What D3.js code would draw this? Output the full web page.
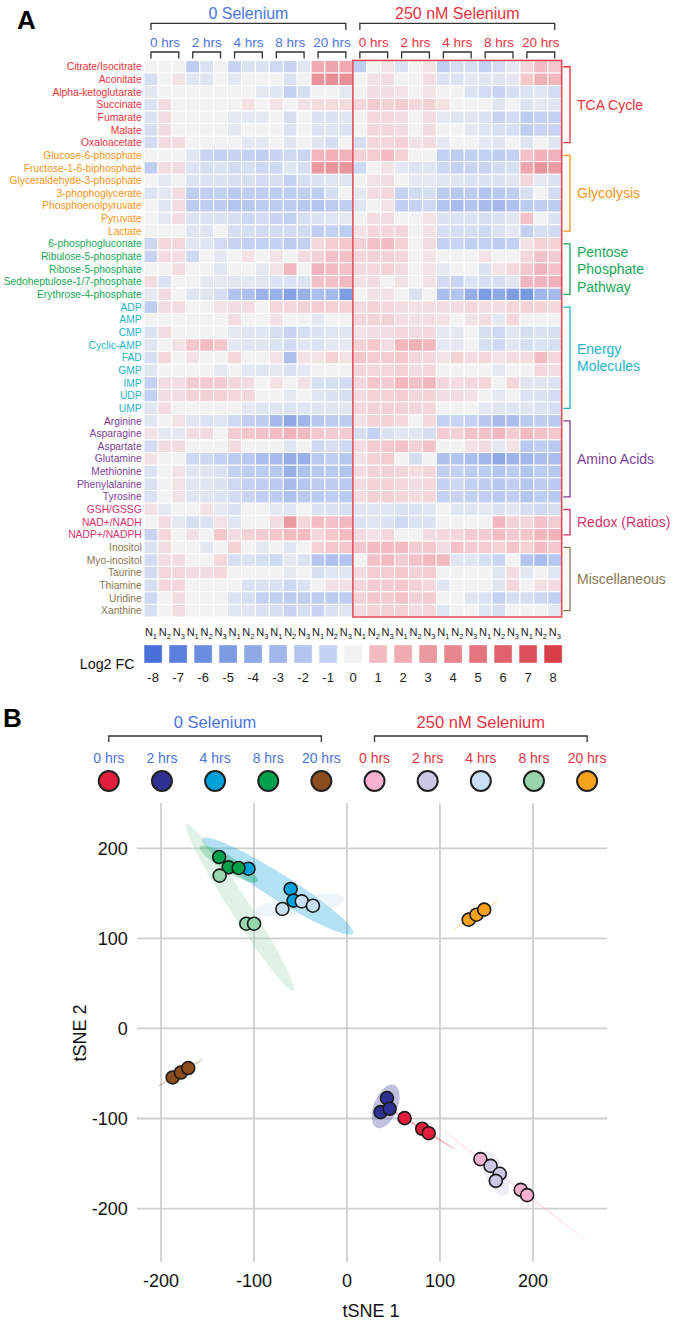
<!DOCTYPE html>
<html><head><meta charset="utf-8">
<script src="https://cdn.jsdelivr.net/npm/d3@7"></script>
<style>body{margin:0;background:#fff}svg{display:block;font-family:"Liberation Sans",Arial,Helvetica,sans-serif}</style>
</head><body><svg id="c" width="673" height="1322"></svg>
<script>
// ---------------- DATA ----------------
const conditions = ["0 Selenium", "250 nM Selenium"];
const conditionColors = ["#4d76dc", "#e8333f"];
const hours = ["0 hrs", "2 hrs", "4 hrs", "8 hrs", "20 hrs"];
const replicates = ["1", "2", "3"];

const pathwayLines = [["TCA Cycle"], ["Glycolysis"], ["Pentose", "Phosphate", "Pathway"], ["Energy", "Molecules"], ["Amino Acids"], ["Redox (Ratios)"], ["Miscellaneous"]];
const pathwayColors = ["#e8333d", "#f7941d", "#17a75b", "#1fb3c8", "#7f3f98", "#d6336f", "#8b7755"];

const tcaMetabolites = ["Citrate/Isocitrate", "Aconitate", "Alpha-ketoglutarate", "Succinate", "Fumarate", "Malate", "Oxaloacetate"];
const tcaValues = [
 [0,0,0,-1.3,-0.5,0,-0.9,-0.5,-0.5,-0.8,-0.9,-0.4,2.0,2.3,2.0,-1.3,0,0.3,-0.5,0,0.3,-1.2,-0.6,-0.6,-1.0,-0.7,-0.3,0.5,1.0,0.8],
 [-0.6,0,0.3,-0.4,-0.4,0,-0.3,0,0,0,-0.5,0,3.2,3.6,3.5,0,0.3,0.4,0,0,0.4,-0.5,-0.5,-0.3,-0.4,-0.4,-0.3,0.8,1.6,1.3],
 [-0.3,0,0,0,0,0,0,0,-0.3,-0.4,-1.0,-0.6,0,0,-0.3,0,0.4,0.4,0.3,0,0.3,0,0,-0.5,-0.7,-0.9,-0.6,-0.5,-0.4,-0.7],
 [-0.5,0.4,0,0,0,0,0,0.3,0,0.3,0,0.3,0.4,0.4,0.4,0.5,0.7,0.6,0.7,0.5,0.6,0.3,0,0,0,-0.4,0,-0.5,-0.3,-0.4],
 [-0.5,0.4,0,0,0,0,-0.3,-0.3,-0.3,0,-0.6,0,-0.5,-0.5,-0.4,0,0.5,0.5,0.4,0,0.4,-0.3,-0.4,-0.4,-0.5,-0.9,-0.7,-1.4,-1.1,-1.0],
 [-0.6,0.4,0,0,0,0,-0.3,0,0,0,-0.5,0,-0.5,-0.4,-0.5,0,0.5,0.5,0.4,0,0.4,0,0,-0.3,-0.4,-0.6,-0.6,-1.3,-0.9,-0.9],
 [-0.7,0.4,0.4,0,0,0,0,-0.3,-0.3,0,-0.4,0,-0.4,-0.6,0,-0.6,0.5,0.5,0.6,0.3,0.4,-0.3,0,0,-0.3,-0.4,0,-0.4,0,-0.4]
];
const glycolysisMetabolites = ["Glucose-6-phosphate", "Fructose-1-6-biphosphate", "Glyceraldehyde-3-phosphate", "3-phophoglycerate", "Phosphoenolpyruvate", "Pyruvate", "Lactate"];
const glycolysisValues = [
 [0,0,0,-0.4,-0.9,-1.0,-0.9,-1.0,-1.2,-0.9,-0.8,-0.9,1.3,1.6,1.5,0.6,0.7,1.1,0.6,0,0,-1.1,-1.3,-1.1,-1.1,-1.3,-1.0,0.9,1.6,1.5],
 [-1.3,0.4,0.4,-0.5,-0.6,-0.5,-0.7,-0.6,-0.8,-0.8,-0.4,-0.6,3.0,3.3,3.2,-0.8,0,0.3,-0.3,-0.5,-0.4,-0.8,-1.0,-0.9,-0.9,-0.7,-0.6,2.3,3.2,2.8],
 [0,-0.3,0,-0.5,-0.5,-0.5,-0.6,-0.6,-0.7,-0.6,-1.0,-0.6,-0.5,-0.4,-0.4,0,0.3,0.4,0,-0.3,-0.3,-0.4,-0.4,-0.5,-0.5,-0.5,-0.4,0.5,-0.3,-0.5],
 [-0.5,-0.3,0.4,-1.3,-1.2,-1.1,-1.6,-1.3,-1.2,-1.3,-1.4,-1.1,-1.3,-0.6,0,-0.3,0.4,0.5,-1.0,-0.7,-0.6,-1.5,-1.7,-1.4,-2.0,-1.6,-1.2,-0.6,0,-0.7],
 [0,-0.4,0.4,-1.5,-1.3,-1.3,-2.0,-1.7,-1.5,-1.5,-1.5,-1.7,-2.0,-1.5,-1.2,-0.4,0,0.3,-1.2,-1.0,-0.8,-2.0,-2.5,-2.0,-2.6,-2.8,-2.3,-1.5,-1.2,-1.5],
 [0,-0.3,0.4,-0.5,-0.5,-0.5,-0.6,-0.8,-0.7,-0.9,-1.1,-0.6,-0.5,-0.4,-0.3,0,0.4,0.4,0,0,0.3,-0.5,-0.5,-0.5,-0.6,-0.5,-0.4,0.9,0,-0.5],
 [0,0,0,-0.4,-0.4,0,-0.6,-0.6,-0.7,-0.7,-0.7,-0.7,-1.2,-1.0,-1.3,0.3,0.5,0.5,0.5,0,0.3,-0.6,-0.6,-0.6,-0.8,-0.5,-0.3,-1.1,-0.6,-0.7]
];
const pentoseMetabolites = ["6-phosphogluconate", "Ribulose-5-phosphate", "Ribose-5-phosphate", "Sedoheptulose-1/7-phosphate", "Erythrose-4-phosphate"];
const pentoseValues = [
 [-0.8,0.5,0.5,-0.4,-0.4,-0.7,-0.9,-1.0,-1.1,-1.0,-1.4,-1.0,0.5,0.7,0.8,0.6,0.9,1.0,0.6,0,0.4,-1.0,-0.9,-1.1,-1.0,-1.4,-1.0,0.3,0.6,0.6],
 [-0.9,0.4,0.4,-0.8,0,-0.3,0,0.3,0,0.3,0,0.4,0.6,0.9,0.9,0.5,0.6,0.6,0.5,0,0.3,0,0,0,0.3,0,0,0.5,0.9,0.7],
 [0,0,0.4,0,0,-0.4,0,0,-0.3,0.3,1.3,0,1.5,1.0,0.9,0.4,0.5,0.6,0.4,0,0.3,-0.3,0,0,-0.5,0.3,0.5,0.8,1.5,0.9],
 [0.4,-0.5,0,0,-0.3,-0.3,-0.4,-0.3,-0.4,-0.5,-0.5,-0.5,0.9,0.9,1.2,0.3,0.4,0,0.3,0,0.3,-0.7,-0.9,-0.5,-0.6,-0.6,-0.4,1.3,1.5,1.6],
 [-0.3,0.4,0,-0.4,-0.4,-0.6,-2.0,-2.3,-3.2,-3.5,-4.5,-3.4,-2.4,-2.7,-5.0,0,0.3,0.3,0,-0.5,0,-2.5,-2.0,-3.6,-5.0,-4.0,-4.8,-5.2,-3.0,-2.8]
];
const energyMetabolites = ["ADP", "AMP", "CMP", "Cyclic-AMP", "FAD", "GMP", "IMP", "UDP", "UMP"];
const energyValues = [
 [-1.3,0.4,0.4,0,0,0.3,0.4,0.4,0,0.5,0.5,0.6,0.7,0.6,0.6,0.4,0.6,0.5,0.4,0.3,0.4,0.4,0.4,0.5,0.4,0.4,0.5,0.6,0.6,0.5],
 [0,0,0,0,0,0,0.4,0,0,0.3,0,0,-0.3,0,0,0.5,0.6,0.6,0.4,0.3,0.4,0.3,0,0.3,0.4,-0.3,0.5,0,0,0],
 [-0.5,0.4,0,0,0,0,-0.3,-0.4,-0.4,-0.6,-0.9,-0.6,-0.5,-0.4,-0.4,0.3,0.4,0.4,0.5,0.4,0.5,-0.3,-0.3,0,-0.6,-0.8,-0.4,-0.6,-0.5,-0.6],
 [-0.4,0,0.3,0.8,1.0,0.8,-0.3,-0.4,-0.4,-0.5,-0.7,-0.4,-0.5,-0.3,-0.3,0.6,0.8,0.4,1.3,1.6,1.3,-0.3,-0.3,0,-0.6,-0.8,-0.4,-0.6,-0.5,-0.6],
 [-0.6,0.5,0,0.3,0,0,0.5,0,0,0.3,-2.3,0.3,0.3,0.6,0.3,0.8,0.7,0.7,0.8,0.5,0.5,0.3,0.6,0.4,0.5,0.3,0.4,0.4,1.0,0.5],
 [-0.4,0,0,0,0,-0.3,0,-0.3,-0.4,-0.3,-0.5,-0.3,0,0,0,0.5,0.5,0.5,0.6,0.4,0.5,0,0,0,0,-0.3,0,0,0.5,0.4],
 [-1.0,0.4,0.4,0.7,0.7,0.7,0.5,0.4,0,0.3,0,0.3,-0.6,-0.6,-0.7,0.5,0.8,0.7,1.3,0.9,1.3,0.5,0.4,0.5,0.5,0,0.5,-0.4,-0.4,-0.5],
 [-1.1,0.4,0.4,0.6,0.6,0.6,0.5,0.5,0,0,-0.3,0,-0.4,-0.5,-0.6,0.4,0.6,0.6,0.7,0.5,0.6,0.4,0.4,0.3,0,-0.3,0,-0.5,-0.5,-0.7],
 [-0.4,0.4,0,0,0,0,0,-0.3,-0.4,-0.4,-0.5,-0.4,-0.4,-0.4,-0.4,0.5,0.6,0.6,0.6,0.5,0.5,0,0,0,-0.3,-0.4,-0.4,-0.4,-0.5,-0.6]
];
const aminoMetabolites = ["Arginine", "Asparagine", "Aspartate", "Glutamine", "Methionine", "Phenylalanine", "Tyrosine"];
const aminoValues = [
 [-0.4,0,0.3,-0.4,-0.5,-0.4,-0.8,-1.2,-1.5,-2.8,-4.0,-3.0,-1.7,-1.5,-1.3,0.3,0.6,0.6,0.5,0,0.5,-1.0,-0.9,-1.0,-1.7,-2.6,-2.4,-1.6,-1.3,-1.6],
 [0.3,-0.3,-0.3,0.4,0.4,0,0.7,0.8,0.9,1.0,1.5,1.1,0.8,0.7,0.7,-0.6,-1.0,-0.5,-0.4,-0.4,-0.6,0.7,0.6,0.9,0.9,1.3,0.7,1.1,0.9,0.8],
 [-0.7,0.4,0.4,0,0,0,0.4,0,0,0,-0.4,0,-0.8,-0.6,-0.8,0.4,0.7,0.8,0.9,0.6,0.9,0,0,0.3,0.4,-0.3,0.3,-1.7,-1.3,-1.6],
 [0.3,0,0,-0.8,-0.8,-1.0,-1.5,-1.7,-2.5,-2.7,-3.7,-3.5,-1.6,-1.2,-1.8,0.3,0.6,0.7,0,-0.6,0,-2.3,-2.0,-2.4,-3.0,-4.0,-3.2,-3.0,-2.5,-2.5],
 [-0.5,0,0.3,-0.4,-0.4,-0.5,-1.0,-1.3,-1.5,-1.7,-3.5,-2.3,-1.7,-1.6,-2.0,0.4,0.6,0.6,0.5,0.4,0.5,-1.2,-1.0,-1.3,-1.5,-2.0,-1.3,-2.0,-1.5,-1.7],
 [-0.5,0,0.3,-0.4,-0.4,-0.5,-0.8,-1.0,-1.2,-1.6,-2.6,-1.8,-1.5,-1.4,-1.6,0.4,0.6,0.6,0.5,0.4,0.5,-1.0,-0.8,-1.1,-1.3,-1.8,-1.2,-1.8,-1.4,-1.6],
 [-0.5,0,0.3,-0.4,-0.4,-0.5,-0.7,-0.9,-1.2,-1.4,-2.3,-1.6,-1.5,-1.3,-1.5,0.4,0.6,0.6,0.5,0.4,0.5,-1.0,-0.9,-1.1,-1.2,-1.6,-1.2,-2.0,-1.4,-1.6]
];
const redoxMetabolites = ["GSH/GSSG", "NAD+/NADH", "NADP+/NADPH"];
const redoxValues = [
 [0.3,-0.3,0,0,0.3,-0.3,-0.5,0,0,-0.3,-0.4,0,-0.5,-0.5,-0.6,-0.4,-0.4,-0.4,-0.5,-0.5,-0.4,0,-0.4,-0.4,-0.3,-0.5,-0.4,-0.6,-0.8,-0.6],
 [0,0.4,-0.3,-0.6,-0.5,0.3,-0.4,0,0,0.4,3.0,0.5,1.0,0.9,1.2,-0.5,-0.4,-0.5,-0.8,-0.5,-0.5,0,0,0,0,1.3,0.6,0.5,0.9,0.7],
 [-0.9,0.5,0,0.3,0,0.8,0.4,0.6,0.7,0.8,1.1,1.1,0.5,0.8,1.1,0.4,0.3,0.5,0,0,0.4,0.5,0.5,0.7,0.7,1.0,0.7,0.8,1.4,1.5]
];
const miscMetabolites = ["Inositol", "Myo-inositol", "Taurine", "Thiamine", "Uridine", "Xanthine"];
const miscValues = [
 [-0.5,0.4,0,0,-0.3,0,0.6,0,-0.3,0,-0.4,0,0.6,0.8,0.8,0.8,1.0,1.1,1.0,0.7,0.8,0.4,0.9,0.7,0.7,0.6,0.8,0.6,1.0,0.8],
 [-0.7,0.4,0.4,0,0,0.5,-0.6,-0.5,-0.6,-0.8,-0.3,-0.5,-1.8,-2.3,-2.0,0,0.9,1.0,0.7,0.9,1.3,1.2,-0.4,-0.4,-0.6,-0.9,0,-2.0,-2.6,-1.8],
 [-0.7,0.5,0.5,0.4,0.4,0.5,0,0,0,0,-0.3,0,-0.6,-0.4,-0.4,0.4,0.7,0.7,0.8,0.6,0.7,0,0,0,0,-0.4,0.4,-0.3,0,-0.4],
 [-0.6,0.5,0.5,0,0,0,0,-0.5,-0.5,-0.5,-0.8,-0.5,0,0.3,0.3,0.5,0.7,0.7,0.8,0.6,0.5,-0.4,0,0,0,-0.4,0.5,0,0.3,0.4],
 [-0.8,0,0.4,0,0,0,-0.5,-0.6,-1.0,-1.1,-1.4,-1.2,-1.3,-1.5,-1.3,0.6,0.8,0.7,0.9,0.6,0.7,0,0,-0.4,-0.5,-1.0,-0.6,-0.6,-0.8,-1.1],
 [-0.6,0,0.4,0,0,0,-0.4,-0.4,-0.5,-0.6,-0.9,-0.6,-0.9,-0.5,-0.4,0.4,0.6,0.6,0.6,0.4,0.5,-0.4,0,0,-0.4,-0.6,0,0,0,-0.3]
];

const legendValues = [-8,-7,-6,-5,-4,-3,-2,-1,0,1,2,3,4,5,6,7,8];
const legendColors = ["#4870d8","#5a7fdc","#6b8ddf","#7d9be3","#8fa9e6","#a1b6ea","#b3c4ee","#c4d1f2","#f2f2f2","#f3bcc3","#efaab2","#eb98a0","#e8868f","#e4747e","#e0626d","#dc505c","#d93e4b"];

// tSNE (panel B)
const groupColors = ["#e31d3c","#2e3192","#00a0d8","#00a14b","#8b4d1e","#f5b3cf","#cdc9e5","#c8e1f4","#98d4ac","#f7a21b"];
const tsneX = [
 [62.0, 81.0, 87.9],
 [43.0, 36.1, 45.8],
 [-105.9, -60.6, -57.4],
 [-137.4, -127.2, -116.6],
 [-187.4, -178.5, -170.7],
 [143.5, 186.9, 193.8],
 [154.5, 164.3, 160.1],
 [-69.4, -48.6, -36.6],
 [-136.9, -108.2, -99.9],
 [130.9, 139.3, 147.6]
];
const tsneY = [
 [-99.6, -111.4, -116.3],
 [-77.4, -92.9, -89.2],
 [177.4, 154.9, 141.9],
 [190.4, 178.9, 178.2],
 [-54.4, -48.9, -44.0],
 [-145.1, -179.2, -185.1],
 [-152.6, -161.4, -169.2],
 [132.7, 141.1, 136.3],
 [169.7, 116.3, 116.3],
 [120.8, 126.3, 131.9]
];
const tsneTicks = [-200, -100, 0, 100, 200];

// ---------------- DRAW ----------------
const svg = d3.select("#c");
const FONT = '"Liberation Sans",Arial,sans-serif';

const groupsMet = [tcaMetabolites, glycolysisMetabolites, pentoseMetabolites, energyMetabolites, aminoMetabolites, redoxMetabolites, miscMetabolites];
const groupsVal = [tcaValues, glycolysisValues, pentoseValues, energyValues, aminoValues, redoxValues, miscValues];
const rows = [];
groupsMet.forEach((ms, gi) => ms.forEach((m, i) => rows.push({name: m, group: gi, values: groupsVal[gi][i]})));

const colIds = d3.range(conditions.length * hours.length * replicates.length);
const x = d3.scaleBand().domain(colIds).range([144, 561.7]);
const y = d3.scaleBand().domain(rows.map(r => r.name)).range([60.4, 617]);
const color = d3.scaleLinear().domain(legendValues).range(legendColors).clamp(true);

// Panel letter A
svg.append("text").attr("x", 17).attr("y", 28.5).text("A")
  .attr("font-size", 26).attr("font-weight", "bold").attr("font-family", "Arial,'Liberation Sans',sans-serif").attr("fill", "#000");

// cells
const gCells = svg.append("g");
rows.forEach(r => {
  gCells.selectAll(null).data(r.values).enter().append("rect")
    .attr("x", (v, i) => x(i)).attr("y", y(r.name))
    .attr("width", x.bandwidth()).attr("height", y.bandwidth())
    .attr("fill", v => color(v)).attr("stroke", "#fff").attr("stroke-width", 1);
});

// row labels
svg.append("g").selectAll("text").data(rows).enter().append("text")
  .attr("x", 141.7).attr("y", r => y(r.name) + y.bandwidth() / 2).attr("dy", "0.35em")
  .attr("text-anchor", "end").attr("font-size", 10.3).attr("fill", r => pathwayColors[r.group])
  .text(r => r.name);

// red box around 250 nM columns
const c250 = hours.length * replicates.length;
svg.append("rect").attr("x", x(c250)).attr("y", 60.4)
  .attr("width", x(colIds.length - 1) + x.bandwidth() - x(c250)).attr("height", 617 - 60.4)
  .attr("fill", "none").attr("stroke", "#e8434f").attr("stroke-width", 1.5);

// column group headers
const nG = conditions.length * hours.length;
const grp = d3.range(nG).map(g => {
  const c = Math.floor(g / hours.length);
  return {g, c, h: hours[g % hours.length],
    x0: x(g * 3) + 7, x1: x(g * 3 + 2) + x.bandwidth() - 7};
});
svg.append("g").selectAll("path").data(grp).enter().append("path")
  .attr("d", d => `M${d.x0},58.5V52H${d.x1}V58.5`).attr("fill", "none").attr("stroke", "#333").attr("stroke-width", 1.3);
svg.append("g").selectAll("text").data(grp).enter().append("text")
  .attr("x", d => (d.x0 + d.x1) / 2).attr("y", 46.5).attr("text-anchor", "middle")
  .attr("font-size", 13.5).attr("fill", d => conditionColors[d.c]).text(d => d.h);
conditions.forEach((cn, ci) => {
  const a = grp[ci * hours.length], b = grp[ci * hours.length + hours.length - 1];
  svg.append("path").attr("d", `M${a.x0},30V23.3H${b.x1}V30`).attr("fill", "none").attr("stroke", "#333").attr("stroke-width", 1.3);
  svg.append("text").attr("x", (a.x0 + b.x1) / 2).attr("y", 18.5).attr("text-anchor", "middle")
    .attr("font-size", 16).attr("fill", conditionColors[ci]).text(cn);
});

// N labels
const nl = svg.append("g").selectAll("text").data(colIds).enter().append("text")
  .attr("x", i => x(i) + x.bandwidth() / 2).attr("y", 636).attr("text-anchor", "middle")
  .attr("font-size", 11).attr("fill", "#222");
nl.append("tspan").text("N");
nl.append("tspan").attr("font-size", 7.5).attr("dy", 2.5).text(i => replicates[i % 3]);

// right pathway brackets
let start = 0;
groupsMet.forEach((ms, gi) => {
  const y0 = y(ms[0]) + y.bandwidth() / 2, y1 = y(ms[ms.length - 1]) + y.bandwidth() / 2;
  svg.append("path").attr("d", `M563.3,${y0}H570V${y1}H563.3`).attr("fill", "none")
    .attr("stroke", pathwayColors[gi]).attr("stroke-width", 1.3);
  const lines = pathwayLines[gi], lh = 17.5, mid = (y0 + y1) / 2;
  lines.forEach((t, li) => {
    svg.append("text").attr("x", 577).attr("y", mid + (li - (lines.length - 1) / 2) * lh).attr("dy", "0.35em")
      .attr("font-size", 14).attr("fill", pathwayColors[gi]).text(t);
  });
});

// color legend
const lx = d3.scalePoint().domain(legendValues).range([153.1, 553.1]);
svg.append("g").selectAll("rect").data(legendValues).enter().append("rect")
  .attr("x", v => lx(v) - 9).attr("y", 645).attr("width", 18).attr("height", 18)
  .attr("fill", v => color(v)).attr("stroke", "#fff").attr("stroke-opacity", 0.35).attr("stroke-width", 1);
svg.append("g").selectAll("text").data(legendValues).enter().append("text")
  .attr("x", v => lx(v)).attr("y", 682).attr("text-anchor", "middle").attr("font-size", 13).attr("fill", "#222").text(v => v);
svg.append("text").attr("x", 134.6).attr("y", 669).attr("text-anchor", "end").attr("font-size", 14.3).attr("fill", "#111").text("Log2 FC");

// ---------------- PANEL B ----------------
svg.append("text").attr("x", 3).attr("y", 726.5).text("B")
  .attr("font-size", 26).attr("font-weight", "bold").attr("font-family", "Arial,'Liberation Sans',sans-serif").attr("fill", "#000");

const gIds = d3.range(nG);
const lp = d3.scalePoint().domain(gIds).range([108.8, 587.1]);
conditions.forEach((cn, ci) => {
  const a = lp(ci * hours.length), b = lp(ci * hours.length + hours.length - 1);
  svg.append("path").attr("d", `M${a},742V736H${b}V742`).attr("fill", "none").attr("stroke", "#333").attr("stroke-width", 1.3);
  svg.append("text").attr("x", (a + b) / 2).attr("y", 727.5).attr("text-anchor", "middle")
    .attr("font-size", 16.5).attr("fill", conditionColors[ci]).text(cn);
});
svg.append("g").selectAll("text").data(gIds).enter().append("text")
  .attr("x", g => lp(g)).attr("y", 763).attr("text-anchor", "middle").attr("font-size", 14)
  .attr("fill", g => conditionColors[Math.floor(g / hours.length)]).text(g => hours[g % hours.length]);
svg.append("g").selectAll("circle").data(gIds).enter().append("circle")
  .attr("cx", g => lp(g)).attr("cy", 781).attr("r", 10)
  .attr("fill", g => groupColors[g]).attr("stroke", "#222").attr("stroke-width", 2);

// scatter
const sx = d3.scaleLinear().domain([-226, 280]).range([136.8, 607.3]);
const sy = d3.scaleLinear().domain([-259, 250]).range([1261.7, 803.3]);
const grid = svg.append("g");
grid.selectAll("line.h").data(tsneTicks).enter().append("line")
  .attr("x1", sx.range()[0]).attr("x2", sx.range()[1]).attr("y1", d => sy(d)).attr("y2", d => sy(d))
  .attr("stroke", "#cfcfcf").attr("stroke-width", 1.8);
grid.selectAll("line.v").data(tsneTicks).enter().append("line")
  .attr("y1", sy.range()[0]).attr("y2", sy.range()[1]).attr("x1", d => sx(d)).attr("x2", d => sx(d))
  .attr("stroke", "#cfcfcf").attr("stroke-width", 1.8);
svg.append("g").selectAll("text").data(tsneTicks).enter().append("text")
  .attr("x", 127.7).attr("y", d => sy(d)).attr("dy", "0.36em").attr("text-anchor", "end")
  .attr("font-size", 18).attr("fill", "#111").text(d => d);
svg.append("g").selectAll("text").data(tsneTicks).enter().append("text")
  .attr("x", d => sx(d)).attr("y", 1287).attr("text-anchor", "middle")
  .attr("font-size", 18).attr("fill", "#111").text(d => d);
svg.append("text").attr("x", 371).attr("y", 1317).attr("text-anchor", "middle").attr("font-size", 18).attr("fill", "#111").text("tSNE 1");
svg.append("text").attr("transform", "translate(80,1033) rotate(-90)").attr("dy", "0.36em").attr("text-anchor", "middle")
  .attr("font-size", 18).attr("fill", "#111").text("tSNE 2");

// confidence ellipses from covariance
function ellipsePoints(xs, ys, k) {
  const n = xs.length, mx = d3.mean(xs), my = d3.mean(ys);
  let sxx = 0, syy = 0, sxy = 0;
  for (let i = 0; i < n; i++) { const dx = xs[i] - mx, dy = ys[i] - my; sxx += dx * dx; syy += dy * dy; sxy += dx * dy; }
  sxx /= (n - 1); syy /= (n - 1); sxy /= (n - 1);
  const tr = sxx + syy, det = sxx * syy - sxy * sxy, disc = Math.sqrt(Math.max(tr * tr / 4 - det, 0));
  const l1 = tr / 2 + disc, l2 = Math.max(tr / 2 - disc, 0);
  const ang = 0.5 * Math.atan2(2 * sxy, sxx - syy);
  const a1 = k * Math.sqrt(l1), a2 = Math.max(k * Math.sqrt(l2), 1.3);
  const c = Math.cos(ang), s = Math.sin(ang);
  return d3.range(0, 120).map(j => {
    const t = j / 120 * 2 * Math.PI, u = a1 * Math.cos(t), v = a2 * Math.sin(t);
    return [sx(mx + u * c - v * s), sy(my + u * s + v * c)];
  });
}
const ell = svg.append("g");
gIds.forEach(g => {
  ell.append("path").attr("d", d3.line().curve(d3.curveLinearClosed)(ellipsePoints(tsneX[g], tsneY[g], 3)))
    .attr("fill", groupColors[g]).attr("fill-opacity", 0.3).attr("stroke", "none");
});
const pts = svg.append("g");
gIds.forEach(g => {
  pts.selectAll(null).data(tsneX[g].map((v, i) => [v, tsneY[g][i]])).enter().append("circle")
    .attr("cx", d => sx(d[0])).attr("cy", d => sy(d[1])).attr("r", 6.5)
    .attr("fill", groupColors[g]).attr("stroke", "#1a1a1a").attr("stroke-width", 1.6);
});
</script></body></html>
